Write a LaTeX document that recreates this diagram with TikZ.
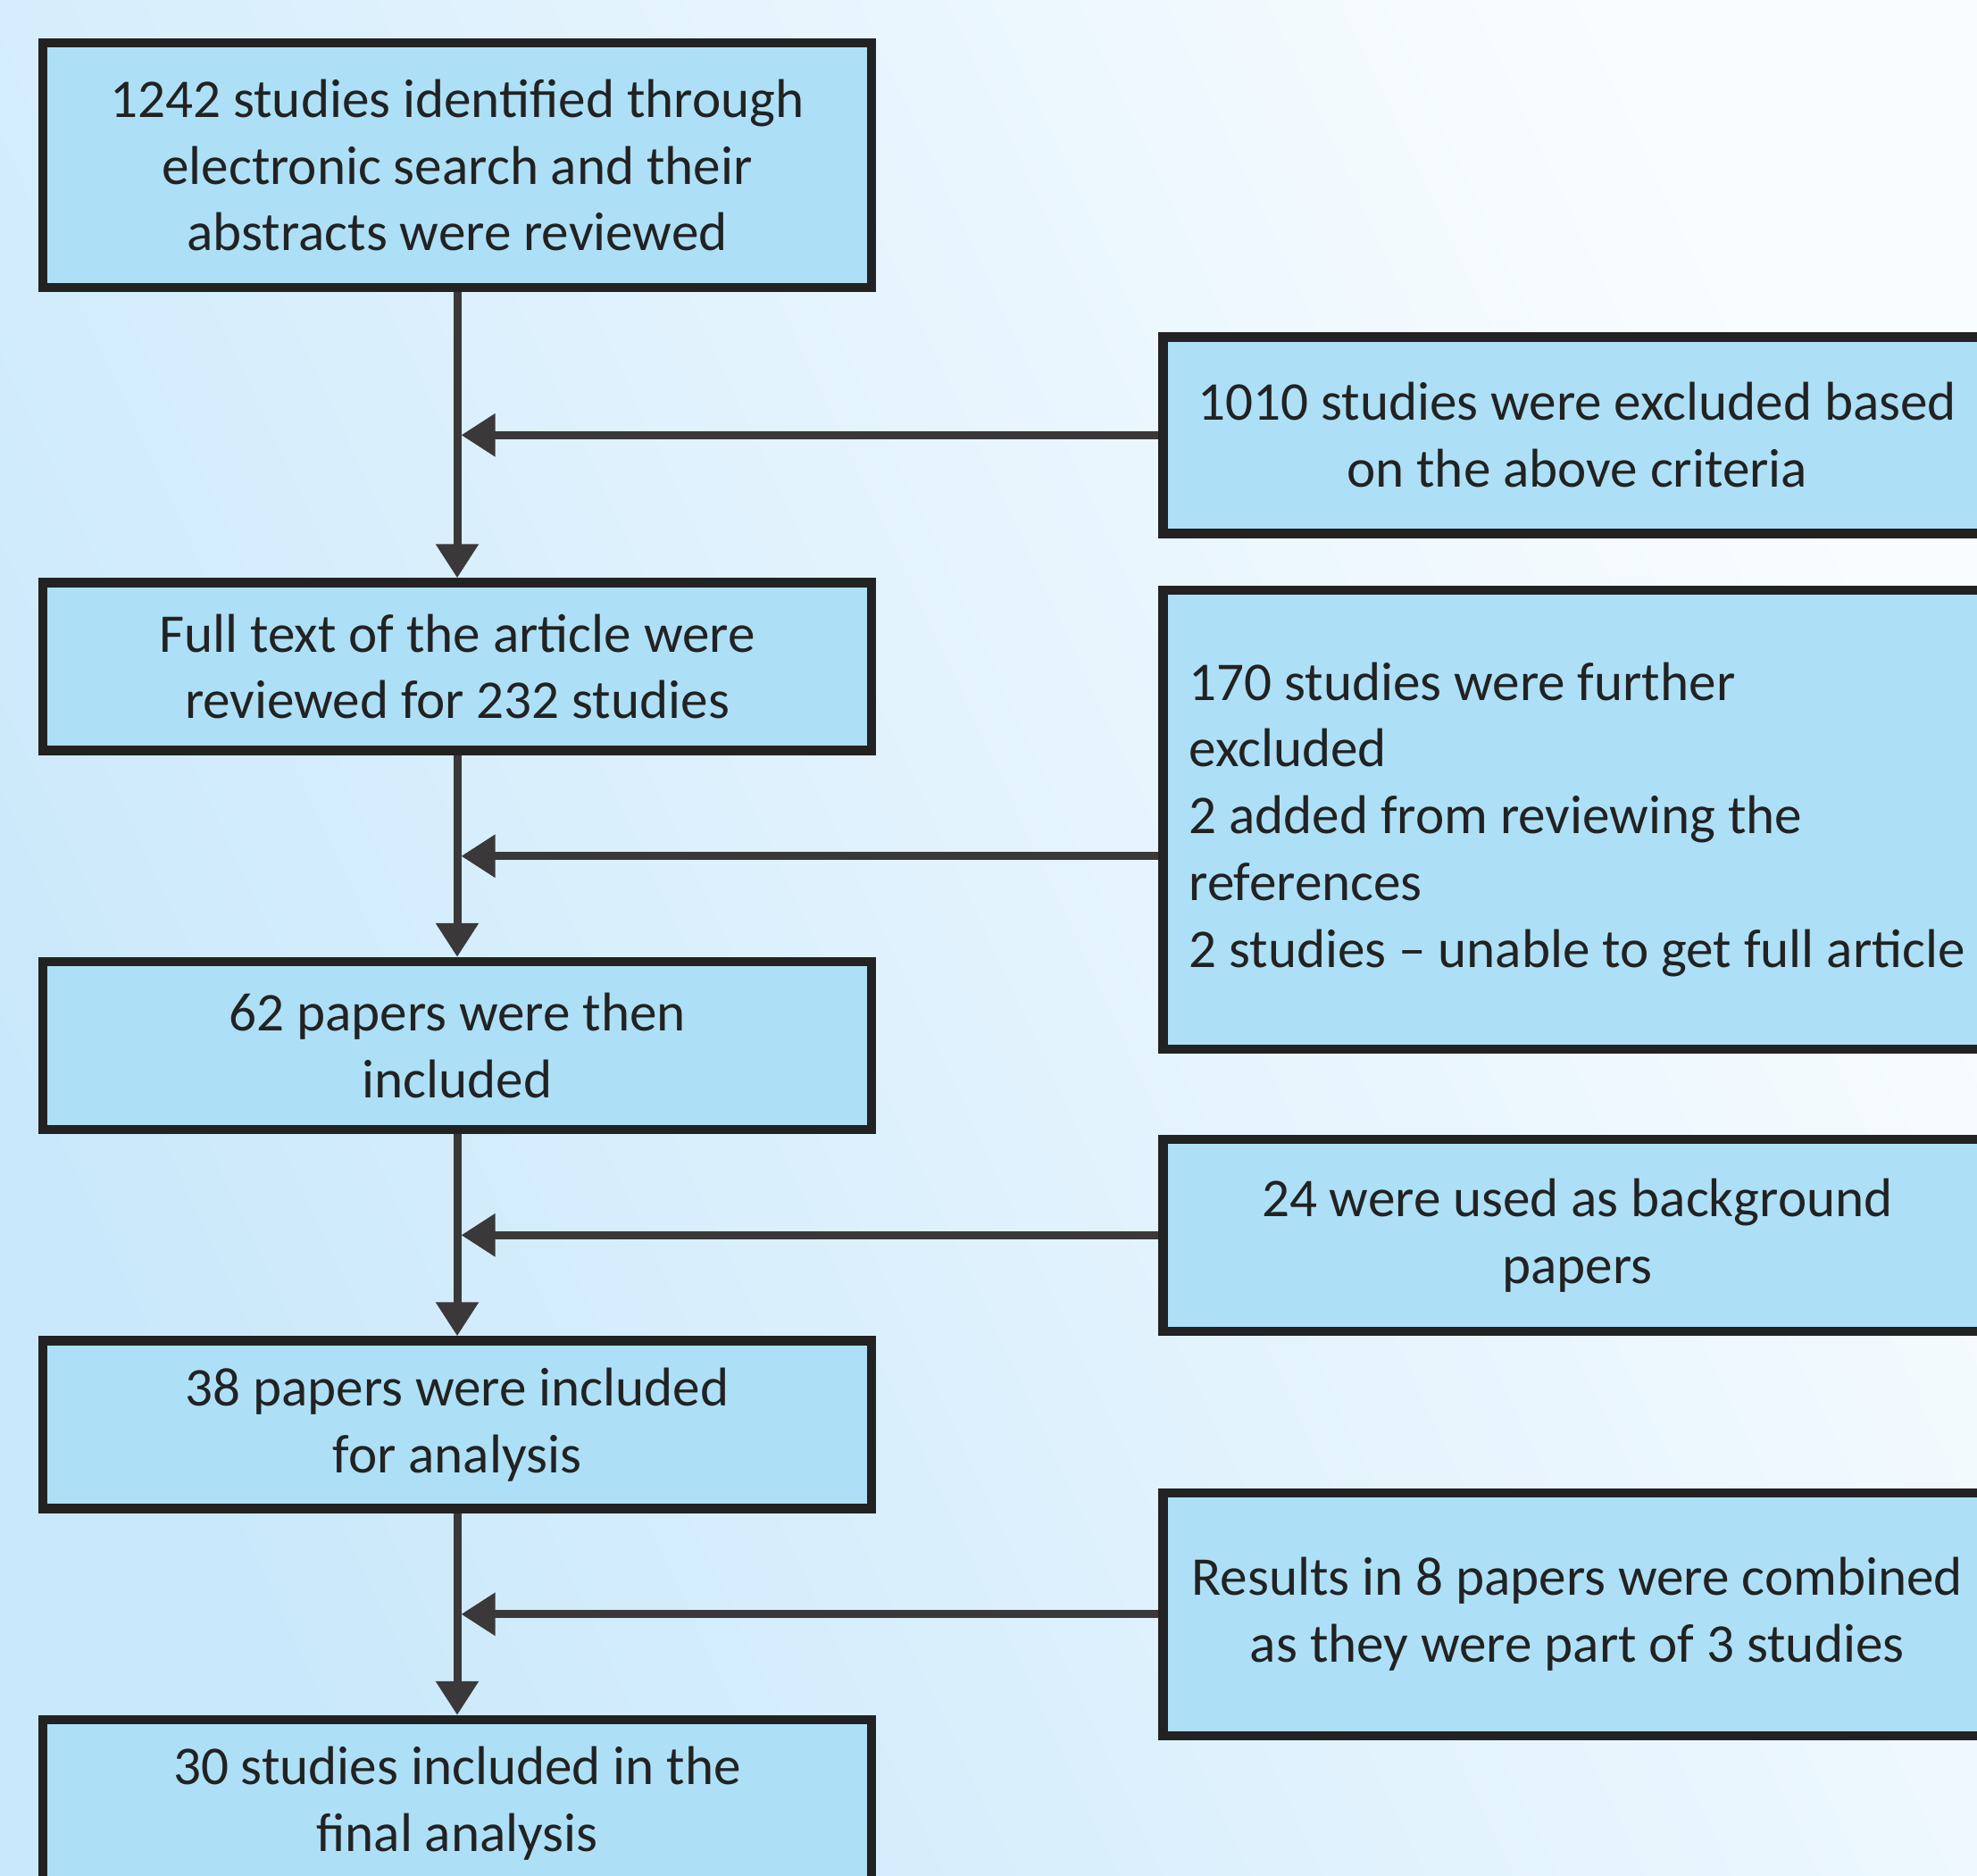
\documentclass[tikz,border=0pt]{standalone}
\usepackage{fontspec}
\setmainfont{Carlito}
\usetikzlibrary{arrows.meta,positioning,calc}
\definecolor{PSky}{HTML}{ADE0F7}
\definecolor{PInk}{HTML}{222222}
\definecolor{PGrey}{HTML}{3A3839}
\definecolor{PBgDeep}{HTML}{C9E8FB}
\definecolor{PBgPale}{HTML}{FAFDFF}

\begin{document}
\begin{tikzpicture}[>={Triangle[width=0.46cm,length=0.38cm]},
    box/.style={draw=PInk,line width=0.105cm,fill=PSky,text=PInk,align=center,minimum width=9.28cm,font=\fontsize{17.4}{21.3}\selectfont},
    link/.style={->,line width=0.09cm,draw=PGrey}]
    \useasboundingbox (0,0) rectangle (22.14,-21);
    \shade[left color=PBgDeep,right color=PBgPale,shading angle=115] (0,0) rectangle (22.14,-21);

    % main column
    \node[box,minimum height=2.74cm] (b1) at (5.12,-1.85) {1242 studies identified through\\electronic search and their\\abstracts were reviewed};
    \node[box,minimum height=1.88cm,below=3.2cm of b1] (b2) {Full text of the article were\\reviewed for 232 studies};
    \node[box,minimum height=1.88cm,below=2.26cm of b2] (b3) {62 papers were then\\included};
    \node[box,minimum height=1.88cm,below=2.26cm of b3] (b4) {38 papers were included\\for analysis};
    \node[box,minimum height=1.88cm,below=2.26cm of b4] (b5) {30 studies included in the\\final analysis};

    \coordinate (m1) at ($(b1.south)!0.5!(b2.north)$);
    \coordinate (m2) at ($(b2.south)!0.5!(b3.north)$);
    \coordinate (m3) at ($(b3.south)!0.5!(b4.north)$);
    \coordinate (m4) at ($(b4.south)!0.5!(b5.north)$);

    % side column
    \node[box,minimum height=2.2cm,right=7.85cm of m1] (r1) {1010 studies were excluded based\\on the above criteria};
    \node[box,minimum height=5.14cm,align=left,below=0.53cm of r1] (r2) {170 studies were further\\excluded\\2 added from reviewing the\\references\\2 studies -- unable to get full article};
    \node[box,minimum height=2.15cm,right=7.85cm of m3] (r3) {24 were used as background\\papers};
    \node[box,minimum height=2.72cm,right=7.85cm of m4] (r4) {Results in 8 papers were combined\\as they were part of 3 studies};

    \draw[link] (b1) -- (b2);
    \draw[link] (b2) -- (b3);
    \draw[link] (b3) -- (b4);
    \draw[link] (b4) -- (b5);

    \draw[link,shorten >=0.045cm] (r1.west |- m1) -- (m1);
    \draw[link,shorten >=0.045cm] (r2.west |- m2) -- (m2);
    \draw[link,shorten >=0.045cm] (r3.west |- m3) -- (m3);
    \draw[link,shorten >=0.045cm] (r4.west |- m4) -- (m4);
\end{tikzpicture}
\end{document}
